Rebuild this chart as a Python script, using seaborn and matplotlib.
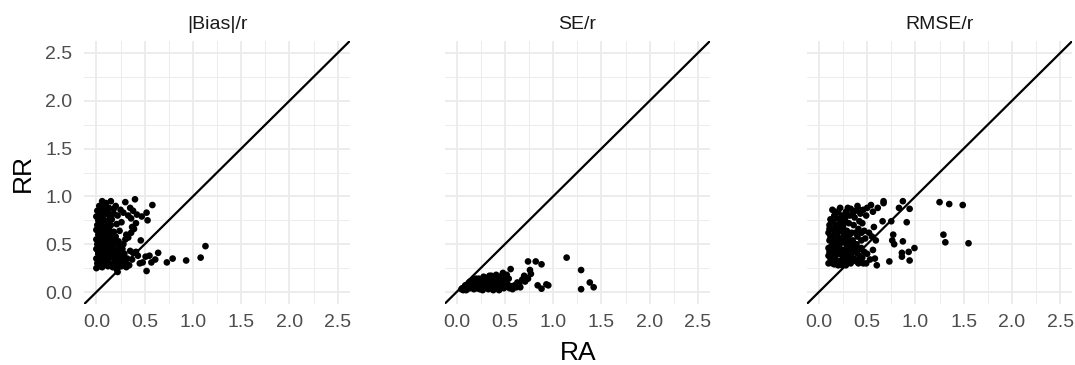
import matplotlib
matplotlib.use("Agg")
import matplotlib.pyplot as plt
import seaborn as sns
import pandas as pd
from matplotlib.ticker import MultipleLocator, FixedLocator

# ---------------- data ----------------
panel_titles = ["|Bias|/r", "SE/r", "RMSE/r"]
tick_values = [0.0, 0.5, 1.0, 1.5, 2.0, 2.5]
tick_labels = ["0.0", "0.5", "1.0", "1.5", "2.0", "2.5"]
x_title = "RA"
y_title = "RR"

bias_x = [0.06, 0.15, 0.30, 0.40, 0.10, 0.58, 0.03, 0.08, 0.20, 0.35,
          0.01, 0.05, 0.12, 0.18, 0.25, 0.28, 0.38, 0.52, 0.00, 0.04,
          0.09, 0.14, 0.22, 0.33, 0.42, 0.47, 0.02, 0.07, 0.11, 0.16,
          0.26, 0.36, 0.53, 0.01, 0.05, 0.10, 0.15, 0.21, 0.39, 0.41,
          0.00, 0.03, 0.08, 0.13, 0.18, 0.36, 0.37, 0.02, 0.06, 0.11,
          0.16, 0.20, 0.31, 0.33, 0.00, 0.04, 0.09, 0.14, 0.19, 0.23,
          0.30, 0.46, 0.01, 0.05, 0.10, 0.15, 0.20, 0.25, 0.28, 0.00,
          0.03, 0.07, 0.12, 0.17, 0.22, 0.27, 0.35, 0.41, 0.02, 0.06,
          0.10, 0.14, 0.19, 0.24, 0.29, 0.38, 0.43, 0.00, 0.04, 0.08,
          0.13, 0.18, 0.23, 0.27, 0.32, 0.37, 0.01, 0.05, 0.09, 0.14,
          0.19, 0.24, 0.30, 0.34, 0.45, 0.48, 0.00, 0.06, 0.12, 0.17,
          0.21, 0.26, 0.31, 0.22, 0.64, 1.13, 1.08, 0.93, 0.79, 0.73,
          0.61, 0.57, 0.52, 0.51, 0.55, 0.02, 0.07, 0.12, 0.16, 0.21,
          0.03, 0.08, 0.11, 0.17, 0.25, 0.02, 0.15, 0.28, 0.06, 0.13,
          0.02, 0.05, 0.09, 0.11, 0.16, 0.20, 0.23, 0.03, 0.07, 0.12,
          0.17, 0.21, 0.26, 0.03, 0.08, 0.13, 0.18, 0.24, 0.10, 0.04]
bias_y = [0.95, 0.95, 0.94, 0.97, 0.93, 0.91, 0.90, 0.89, 0.90, 0.88,
          0.85, 0.86, 0.84, 0.87, 0.86, 0.83, 0.85, 0.83, 0.79, 0.80,
          0.81, 0.79, 0.80, 0.80, 0.81, 0.79, 0.75, 0.76, 0.74, 0.76,
          0.73, 0.77, 0.75, 0.70, 0.71, 0.69, 0.70, 0.71, 0.66, 0.72,
          0.65, 0.66, 0.64, 0.66, 0.63, 0.62, 0.68, 0.60, 0.61, 0.59,
          0.60, 0.58, 0.60, 0.57, 0.55, 0.56, 0.54, 0.55, 0.56, 0.53,
          0.55, 0.54, 0.50, 0.51, 0.49, 0.50, 0.51, 0.48, 0.50, 0.45,
          0.46, 0.44, 0.45, 0.46, 0.44, 0.45, 0.43, 0.42, 0.40, 0.41,
          0.39, 0.40, 0.41, 0.39, 0.40, 0.41, 0.38, 0.35, 0.36, 0.34,
          0.35, 0.36, 0.34, 0.36, 0.35, 0.34, 0.30, 0.31, 0.29, 0.30,
          0.31, 0.29, 0.30, 0.28, 0.30, 0.31, 0.25, 0.26, 0.27, 0.26,
          0.24, 0.27, 0.26, 0.21, 0.41, 0.48, 0.36, 0.33, 0.35, 0.31,
          0.34, 0.31, 0.22, 0.37, 0.38, 0.52, 0.48, 0.42, 0.38, 0.33,
          0.33, 0.38, 0.53, 0.43, 0.42, 0.28, 0.28, 0.32, 0.68, 0.72,
          0.42, 0.38, 0.43, 0.36, 0.48, 0.38, 0.46, 0.55, 0.58, 0.62,
          0.53, 0.27, 0.31, 0.73, 0.84, 0.88, 0.82, 0.64, 0.32, 0.27]

se_x = [0.05, 0.08, 0.10, 0.12, 0.14, 0.16, 0.18, 0.19, 0.20, 0.22,
        0.23, 0.24, 0.26, 0.27, 0.28, 0.29, 0.31, 0.32, 0.33, 0.34,
        0.35, 0.36, 0.38, 0.39, 0.40, 0.41, 0.43, 0.44, 0.45, 0.47,
        0.48, 0.49, 0.50, 0.52, 0.53, 0.55, 0.56, 0.58, 0.60, 0.62,
        0.65, 0.68, 0.70, 0.71, 0.74, 0.76, 0.77, 0.74, 0.82, 0.88,
        0.84, 0.88, 0.93, 0.95, 1.14, 1.29, 1.38, 1.29, 1.42, 0.11,
        0.13, 0.15, 0.17, 0.21, 0.25, 0.30, 0.37, 0.42, 0.46, 0.51,
        0.07, 0.09, 0.18, 0.27, 0.34, 0.40, 0.44, 0.54, 0.30, 0.20,
        0.06, 0.09, 0.12, 0.15, 0.17, 0.19, 0.22, 0.24, 0.26, 0.28,
        0.31, 0.33, 0.35, 0.37, 0.39, 0.41, 0.43, 0.46, 0.48, 0.52,
        0.14, 0.23, 0.32, 0.38, 0.57, 0.63, 0.66, 0.72, 0.36, 0.29]
se_y = [0.03, 0.05, 0.02, 0.07, 0.04, 0.09, 0.03, 0.12, 0.06, 0.10,
        0.14, 0.03, 0.08, 0.12, 0.16, 0.05, 0.10, 0.14, 0.03, 0.17,
        0.07, 0.12, 0.15, 0.04, 0.09, 0.18, 0.13, 0.06, 0.16, 0.10,
        0.20, 0.04, 0.14, 0.18, 0.08, 0.04, 0.24, 0.03, 0.07, 0.05,
        0.09, 0.13, 0.17, 0.11, 0.14, 0.23, 0.19, 0.32, 0.32, 0.29,
        0.07, 0.035, 0.08, 0.07, 0.36, 0.23, 0.10, 0.03, 0.05, 0.05,
        0.10, 0.06, 0.13, 0.04, 0.11, 0.13, 0.05, 0.11, 0.05, 0.11,
        0.02, 0.07, 0.08, 0.02, 0.09, 0.14, 0.02, 0.14, 0.07, 0.14,
        0.04, 0.03, 0.04, 0.08, 0.05, 0.09, 0.07, 0.12, 0.05, 0.09,
        0.06, 0.12, 0.15, 0.09, 0.12, 0.06, 0.16, 0.13, 0.08, 0.06,
        0.11, 0.09, 0.04, 0.02, 0.06, 0.10, 0.05, 0.15, 0.17, 0.15]

rmse_x = [0.10, 0.10, 0.10, 0.11, 0.10, 0.11, 0.12, 0.13, 0.13, 0.14,
          0.13, 0.14, 0.15, 0.16, 0.16, 0.17, 0.17, 0.18, 0.17, 0.18,
          0.19, 0.20, 0.20, 0.21, 0.21, 0.22, 0.21, 0.22, 0.24, 0.24,
          0.25, 0.24, 0.25, 0.26, 0.25, 0.27, 0.28, 0.28, 0.29, 0.29,
          0.30, 0.29, 0.31, 0.32, 0.33, 0.33, 0.33, 0.34, 0.35, 0.34,
          0.36, 0.37, 0.38, 0.37, 0.38, 0.39, 0.40, 0.41, 0.42, 0.43,
          0.41, 0.42, 0.44, 0.45, 0.47, 0.46, 0.49, 0.50, 0.47, 0.49,
          0.54, 0.61, 0.56, 0.67, 0.67, 0.87, 0.94, 0.83, 0.91, 0.75,
          0.66, 0.57, 0.77, 0.76, 0.78, 0.87, 0.99, 0.93, 0.86, 0.86,
          0.94, 0.73, 0.60, 0.58, 0.56, 0.59, 0.55, 1.25, 1.35, 1.49,
          1.29, 1.31, 1.55, 0.12, 0.15, 0.19, 0.23, 0.27, 0.31, 0.15,
          0.19, 0.23, 0.27, 0.12, 0.16, 0.20, 0.26, 0.31, 0.35, 0.39,
          0.44, 0.48, 0.52, 0.50, 0.53, 0.45, 0.40, 0.30, 0.22, 0.14,
          0.11, 0.12, 0.14, 0.15, 0.16, 0.18, 0.19, 0.20, 0.22, 0.23,
          0.24, 0.26, 0.27, 0.28, 0.30, 0.32, 0.34, 0.36, 0.38, 0.40,
          0.42, 0.44, 0.46, 0.11, 0.13, 0.17, 0.23, 0.29, 0.35, 0.42]
rmse_y = [0.30, 0.38, 0.46, 0.54, 0.62, 0.70, 0.76, 0.33, 0.42, 0.50,
          0.58, 0.66, 0.73, 0.80, 0.29, 0.37, 0.45, 0.53, 0.61, 0.69,
          0.77, 0.84, 0.32, 0.40, 0.48, 0.56, 0.64, 0.72, 0.80, 0.28,
          0.36, 0.44, 0.52, 0.60, 0.68, 0.76, 0.84, 0.32, 0.40, 0.48,
          0.56, 0.64, 0.72, 0.80, 0.87, 0.30, 0.38, 0.46, 0.54, 0.62,
          0.70, 0.78, 0.85, 0.34, 0.42, 0.50, 0.58, 0.66, 0.74, 0.82,
          0.30, 0.38, 0.46, 0.36, 0.42, 0.86, 0.80, 0.88, 0.64, 0.30,
          0.91, 0.88, 0.84, 0.95, 0.93, 0.95, 0.87, 0.88, 0.73, 0.74,
          0.74, 0.68, 0.60, 0.54, 0.50, 0.53, 0.46, 0.42, 0.41, 0.37,
          0.33, 0.32, 0.28, 0.35, 0.44, 0.54, 0.58, 0.94, 0.92, 0.91,
          0.60, 0.52, 0.51, 0.35, 0.40, 0.44, 0.33, 0.44, 0.36, 0.56,
          0.60, 0.64, 0.56, 0.47, 0.33, 0.70, 0.72, 0.52, 0.42, 0.32,
          0.54, 0.56, 0.62, 0.40, 0.34, 0.72, 0.90, 0.88, 0.88, 0.86,
          0.42, 0.58, 0.30, 0.48, 0.64, 0.40, 0.52, 0.28, 0.44, 0.52,
          0.70, 0.40, 0.64, 0.28, 0.44, 0.60, 0.34, 0.50, 0.62, 0.46,
          0.34, 0.62, 0.30, 0.66, 0.74, 0.84, 0.78, 0.80, 0.82, 0.86]

panel_data = [(bias_x, bias_y), (se_x, se_y), (rmse_x, rmse_y)]

# ---------------- style ----------------
sns.set_theme(style="white")
plt.rcParams['font.family'] = ['Liberation Sans', 'DejaVu Sans']

W, H = 1075, 365
fig = plt.figure(figsize=(W / 100, H / 100), dpi=100)
fig.patch.set_facecolor("white")

lefts = [84.3, 444.5, 806.8]
pw, ph = 265.5, 263.0
pbottom = 304.0

for i, (title, (xs, ys)) in enumerate(zip(panel_titles, panel_data)):
    ax = fig.add_axes([lefts[i] / W, (H - pbottom) / H, pw / W, ph / H])
    ax.set_facecolor("white")
    df = pd.DataFrame({"RA": xs, "RR": ys})
    ax.axline((0, 0), slope=1, color="black", lw=1.6, zorder=3)
    sns.scatterplot(data=df, x="RA", y="RR", ax=ax, color="black", s=23,
                    edgecolor="none", linewidth=0, legend=False, zorder=4)
    ax.set_xlim(-0.125, 2.625)
    ax.set_ylim(-0.125, 2.625)
    for axis in (ax.xaxis, ax.yaxis):
        axis.set_major_locator(FixedLocator(tick_values))
        axis.set_minor_locator(MultipleLocator(0.25))
    ax.set_xticklabels(tick_labels)
    if i == 0:
        ax.set_yticklabels(tick_labels)
    else:
        ax.set_yticklabels([])
    ax.set_axisbelow(True)
    ax.grid(which="major", color="#EBEBEB", lw=1.3)
    ax.grid(which="minor", color="#EBEBEB", lw=0.65)
    ax.tick_params(which="both", length=0, labelsize=14, labelcolor="#4D4D4D")
    ax.tick_params(axis="x", pad=7)
    ax.tick_params(axis="y", pad=8.5)
    for sp in ax.spines.values():
        sp.set_visible(False)
    ax.set_xlabel("")
    ax.set_ylabel("")
    ax.set_title(title, fontsize=14, color="#1A1A1A", pad=8.4)

fig.text(578.5 / W, 1 - 360 / H, x_title, ha="center", va="baseline",
         fontsize=19, color="black")
fig.text(22.5 / W, 1 - 172.5 / H, y_title, ha="center", va="center",
         rotation=90, fontsize=19, color="black")

fig.savefig("out.png", dpi=100, facecolor="white")
